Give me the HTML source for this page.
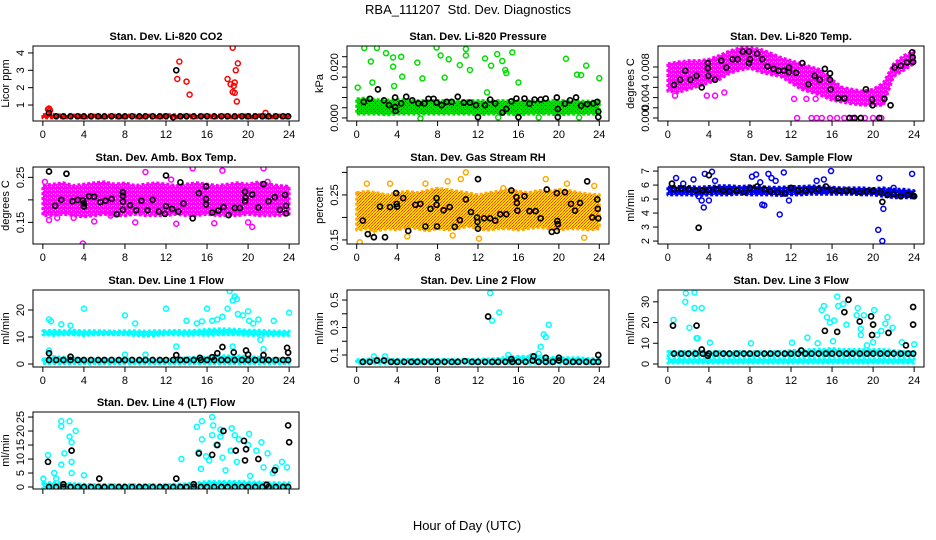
<!DOCTYPE html>
<html><head><meta charset="utf-8"><style>
body{margin:0;background:#fff}
svg{display:block;font-family:"Liberation Sans",sans-serif}
</style></head><body>
<svg id="chart" width="936" height="540" viewBox="0 0 936 540">
<defs>
<pattern id="pat-red" width="4" height="4" patternUnits="userSpaceOnUse"><rect width="4" height="4" fill="#ff0000"/><rect x="1" y="1" width="1" height="1" fill="#ff9090"/></pattern>
<pattern id="pat-green" width="4" height="4" patternUnits="userSpaceOnUse"><rect width="4" height="4" fill="#00dd00"/><rect x="1" y="1" width="1" height="1" fill="#004400"/><rect x="3" y="3" width="1" height="1" fill="#007700"/></pattern>
<pattern id="pat-magenta" width="4" height="4" patternUnits="userSpaceOnUse"><rect width="4" height="4" fill="#ff00ff"/><rect x="1" y="1" width="1" height="1" fill="#ffb0ff"/><rect x="3" y="2" width="1" height="1" fill="#ffd0ff"/></pattern>
<pattern id="pat-orange" width="3" height="3" patternUnits="userSpaceOnUse"><rect width="3" height="3" fill="#ffdd00"/><rect x="0" y="0" width="1" height="1" fill="#ff2a00"/><rect x="2" y="1" width="1" height="1" fill="#ff3300"/><rect x="1" y="2" width="1" height="1" fill="#ff6600"/></pattern>
<pattern id="pat-blue" width="4" height="4" patternUnits="userSpaceOnUse"><rect width="4" height="4" fill="#0000ee"/><rect x="1" y="1" width="1" height="1" fill="#6a6aff"/></pattern>
<pattern id="pat-cyan" width="4" height="4" patternUnits="userSpaceOnUse"><rect width="4" height="4" fill="#00ffff"/><rect x="1" y="1" width="1" height="1" fill="#b0ffff"/></pattern>
</defs>
<text x="468" y="14" text-anchor="middle" font-size="13" xml:space="preserve">RBA_111207&#160; Std. Dev. Diagnostics</text>
<text x="467" y="530" text-anchor="middle" font-size="13">Hour of Day (UTC)</text>
</svg>
<script>
const xTicks=[0,4,8,12,16,20,24];
const bandHours=[0,1,2,3,4,5,6,7,8,9,10,11,12,13,14,15,16,17,18,19,20,21,22,23,24];
const BH=[0.6,1.3,2,2.7,3.4,4,4.7,5.4,6,6.7,7.4,8,8.7,9.4,10,10.7,11.4,12,12.7,13.4,14,14.7,15.4,16,16.7,17.4,18,18.7,19.4,20,20.7,21.4,22,22.7,23.4,23.9];

// CO2
const co2Lo=[0.26,0.26,0.26,0.26,0.26,0.26,0.26,0.26,0.26,0.26,0.26,0.26,0.26,0.26,0.26,0.26,0.26,0.26,0.26,0.26,0.26,0.26,0.26,0.26,0.26];
const co2Hi=[0.45,0.45,0.42,0.42,0.42,0.42,0.42,0.42,0.42,0.42,0.42,0.42,0.44,0.44,0.42,0.42,0.42,0.42,0.42,0.42,0.44,0.44,0.44,0.42,0.42];
const co2PtX=[0.5,0.6,0.7,13.3,13.1,14,14.3,18,18.3,18.5,18.6,18.7,18.5,18.7,18.8,19,18.9,21.7];
const co2PtY=[0.75,0.8,0.7,3.5,2.5,2.35,1.6,2.5,2.2,4.3,2.1,2.3,1.75,1.7,3.0,3.4,1.2,0.55];
const co2BlkX=BH.concat([13]);
const co2BlkY=[0.55,0.35,0.35,0.35,0.35,0.35,0.35,0.35,0.35,0.35,0.35,0.35,0.35,0.35,0.35,0.35,0.35,0.35,0.3,0.35,0.35,0.35,0.35,0.35,0.35,0.35,0.35,0.35,0.35,0.35,0.35,0.35,0.35,0.35,0.35,0.35,3.0];

// Pressure
const prLo=[0.0015,0.0015,0.0015,0.0012,0.0015,0.0015,0.0015,0.0015,0.0015,0.0015,0.0015,0.0015,0.0012,0.0015,0.0015,0.0015,0.0012,0.0015,0.0015,0.0015,0.0012,0.0015,0.0015,0.0015,0.0015];
const prHi=[0.0075,0.0078,0.0072,0.007,0.0072,0.007,0.0068,0.0068,0.0068,0.0068,0.0068,0.0068,0.0068,0.0068,0.0068,0.0068,0.0068,0.0068,0.0068,0.0068,0.0068,0.0068,0.0066,0.0066,0.0066];
const prPtX=[0.1,0.75,1.55,1.4,2,2.9,3.6,3.6,3.7,4.4,4.5,6,6.5,7.9,8.3,8.7,9.1,10.2,10.8,10.8,11.2,12.7,13.3,13.9,14.4,14.7,14.8,15.4,16,12.9,20.7,21.8,22.2,22.7,24,6.3,14,18,22];
const prPtY=[0.0119,0.0274,0.0139,0.0221,0.0274,0.0254,0.0201,0.0237,0.0125,0.024,0.0162,0.0217,0.0155,0.0276,0.0245,0.0158,0.023,0.0207,0.027,0.0245,0.0188,0.0233,0.0205,0.025,0.0223,0.0188,0.0176,0.0257,0.0139,0.0100,0.0232,0.017,0.0168,0.0205,0.0156,-0.0002,0.0002,0.0002,0.0002];
const prBlkX=[0.7,1.3,2.1,2.7,3.2,3.8,3.8,3.85,4.4,4.9,5.5,6.1,6.7,7.1,7.6,7.9,8.4,8.9,9.4,10,10.6,11.2,11.8,12,12.7,13.2,13.7,14.4,14.8,15.3,15.8,16,16.6,17.1,17.6,18.2,18.7,19.8,19.9,19.9,20.6,21.1,21.7,22.2,22.8,23.4,23.8,23.9,23.9];
const prBlkY=[0.0063,0.0075,0.0112,0.0069,0.005,0.008,0.0043,0.0027,0.0057,0.0083,0.0069,0.0057,0.0057,0.0075,0.0075,0.006,0.005,0.0063,0.0063,0.0083,0.006,0.006,0.005,0.0003,0.005,0.0072,0.0057,0.0021,0.0035,0.0065,0.0076,0.0003,0.0076,0.0056,0.0072,0.0072,0.0076,0.008,0.0003,0.0035,0.0056,0.0069,0.008,0.0048,0.0054,0.0057,0.0063,0.0025,0.0003];

// Li-820 temp
const tmLo=[0.0042,0.004,0.0045,0.005,0.0055,0.006,0.007,0.0075,0.0078,0.0072,0.0068,0.0065,0.0055,0.0045,0.004,0.0035,0.0028,0.0025,0.0022,0.002,0.002,0.002,0.0065,0.0075,0.0085];
const tmHi=[0.0085,0.0088,0.009,0.009,0.0092,0.0098,0.0105,0.011,0.011,0.0108,0.0102,0.0095,0.009,0.0085,0.008,0.0075,0.006,0.0048,0.0045,0.0042,0.0045,0.0055,0.0085,0.0098,0.0105];
const tmPtX=[0.7,3.8,4.6,5.5,12.6,14,14.5,15,15.8,16.5,17.2,18,19.2,20,20.8,12.3,13.5,14.4];
const tmPtY=[0.0035,0.0035,0.0035,0.004,0,0,0,0,0,0,0,0,0,0,0,0.003,0.003,0.003];
const tmBlkX=[0.6,1.2,1.7,2.2,2.8,3.3,3.9,3.9,3.95,4.6,5.2,5.7,6.3,6.8,7.3,7.9,7.9,8,8.7,9.2,9.7,10.3,10.8,11.3,11.8,11.8,12.5,13.1,13.7,14.3,14.8,15.3,15.8,15.8,15.85,16.6,17.2,17.7,18.2,18.8,19.3,19.9,19.95,20.6,21.1,21.7,22.1,22.7,23.3,23.8,23.85,23.9];
const tmBlkY=[0.0052,0.006,0.0074,0.006,0.0066,0.0048,0.0086,0.0078,0.0066,0.006,0.009,0.0079,0.0092,0.0092,0.0104,0.0086,0.0104,0.0092,0.0101,0.0092,0.0081,0.0077,0.0074,0.0074,0.0079,0.0072,0.0071,0.0086,0.0053,0.0066,0.006,0.0077,0.007,0.006,0.0045,0.0031,0.0031,0,0,0,0.0045,0.0029,0.002,0,0.003,0.002,0.0079,0.0082,0.0087,0.0103,0.0095,0.0088];

// Amb box temp
const abLo=[0.165,0.165,0.168,0.165,0.162,0.165,0.168,0.165,0.165,0.168,0.165,0.165,0.165,0.168,0.165,0.165,0.168,0.165,0.165,0.165,0.168,0.165,0.165,0.165,0.168];
const abHi=[0.232,0.235,0.238,0.232,0.235,0.238,0.24,0.235,0.238,0.232,0.235,0.238,0.235,0.232,0.235,0.238,0.235,0.232,0.235,0.238,0.235,0.24,0.235,0.232,0.23];
const abPtX=[0.2,3.9,0.6,10,12.5,14.6,17.5,21.5,21.9,5,9,13,16.7,20,20.4,3,6.6,1.4];
const abPtY=[0.24,0.103,0.155,0.262,0.245,0.27,0.265,0.27,0.24,0.152,0.15,0.147,0.148,0.15,0.14,0.16,0.165,0.16];
const abBlkX=[0.6,1.2,1.8,2.3,2.9,3.4,3.9,4,4,4.5,5,5.6,6.1,6.7,7.2,7.8,7.8,7.8,7.8,8.5,9.1,9.6,10.2,10.7,11.3,11.9,12,12,12.6,13.2,13.4,13.7,14.6,15.2,15.9,15.9,15.9,16.5,17.1,17.6,18.1,18.7,19.2,19.7,19.7,19.75,20.4,21,21.5,22,22.6,23.1,23.6,23.7,23.7];
const abBlkY=[0.263,0.187,0.2,0.258,0.197,0.2,0.199,0.185,0.192,0.208,0.207,0.195,0.198,0.202,0.168,0.217,0.209,0.196,0.178,0.188,0.177,0.198,0.177,0.2,0.174,0.169,0.254,0.186,0.18,0.174,0.239,0.192,0.159,0.215,0.202,0.23,0.19,0.172,0.176,0.184,0.166,0.182,0.182,0.218,0.197,0.205,0.212,0.183,0.235,0.197,0.206,0.178,0.211,0.187,0.17];

// Gas RH
const rhLo=[0.172,0.175,0.17,0.175,0.172,0.178,0.175,0.17,0.175,0.172,0.175,0.18,0.175,0.172,0.175,0.175,0.172,0.175,0.178,0.175,0.172,0.175,0.175,0.172,0.175];
const rhHi=[0.255,0.258,0.255,0.25,0.255,0.258,0.255,0.26,0.265,0.262,0.258,0.255,0.25,0.255,0.258,0.262,0.258,0.255,0.26,0.258,0.262,0.26,0.255,0.252,0.25];
const rhPtX=[0.3,1.0,3.3,6.8,9.0,10.3,10.8,12.1,14.5,18.7,20.8,22.5,9.5,5,1.5,23.5];
const rhPtY=[0.145,0.275,0.275,0.275,0.28,0.285,0.3,0.153,0.265,0.285,0.275,0.155,0.16,0.158,0.165,0.27];
const rhBlkX=[0.6,1.1,1.7,2.3,2.8,3.3,3.9,3.95,4,4.6,5.1,5.8,6.3,6.8,7.3,7.9,7.9,7.95,8.6,9.2,9.7,10.2,10.8,11.3,11.9,11.95,12,12,12.6,13.2,13.7,14.2,14.8,15.3,15.8,15.85,15.9,16.6,17.1,17.7,18.2,18.8,19.3,19.8,19.8,19.85,19.9,20.6,21.2,21.6,22.1,22.8,23.3,23.8,23.85,23.9];
const rhBlkY=[0.193,0.163,0.156,0.224,0.156,0.223,0.254,0.23,0.224,0.243,0.17,0.228,0.23,0.18,0.219,0.228,0.243,0.18,0.216,0.223,0.179,0.194,0.24,0.212,0.2,0.19,0.285,0.175,0.198,0.198,0.193,0.207,0.207,0.26,0.245,0.232,0.215,0.247,0.214,0.214,0.198,0.262,0.168,0.254,0.17,0.192,0.185,0.256,0.23,0.215,0.232,0.28,0.2,0.24,0.219,0.198];

// Sample flow
const sfLo=[5.3,5.3,5.3,5.25,5.3,5.3,5.3,5.35,5.3,5.3,5.3,5.25,5.3,5.3,5.35,5.35,5.35,5.35,5.35,5.3,5.3,5.2,5.1,5.1,5.1];
const sfHi=[5.85,5.9,5.9,5.85,5.9,5.95,5.95,5.9,5.95,5.9,5.85,5.85,5.9,5.9,5.95,5.9,5.85,5.8,5.8,5.8,5.75,5.8,5.7,5.7,5.6];
const sfPtX=[0.8,1.5,2.5,3.0,3.3,3.5,3.6,4.0,4.3,4.6,8.2,8.6,9.0,9.2,9.4,9.8,10.1,10.5,10.9,11.3,11.8,14.5,15.2,15.9,20.6,20.5,20.9,21,22,23.8];
const sfPtY=[6.5,6.1,6.4,5.2,4.9,4.4,6.8,4.9,6.95,6.3,6.6,6.75,6.2,4.6,4.55,6.8,6.5,6.3,3.9,6.9,4.9,6.3,6.4,7.0,6.5,2.8,2.0,4.3,5.8,6.8];
const sfBlkX=BH.concat([0.4,3.0,4.0,20.9,24]);
const sfBlkY=[5.7,5.75,5.7,5.6,5.6,5.65,5.7,5.6,5.55,5.6,5.5,5.8,5.9,5.7,5.55,5.5,5.4,5.8,5.6,5.6,5.65,5.7,5.9,5.65,5.6,5.6,5.55,5.5,5.55,5.6,5.5,5.3,5.35,5.2,5.3,5.25,6.1,2.95,6.7,4.8,5.2];

// Line 1
const l1Lo=[10.8,10.6,10.8,10.8,10.6,10.8,10.8,10.8,10.8,10.6,10.3,10.6,10.8,10.8,10.6,10.8,10.6,10.8,10.8,10.8,10.6,10.6,10.6,10.6,10.6];
const l1Hi=[12.3,12.5,12.3,12.5,12.3,12.3,12.3,12.2,12.3,12.3,12.2,12.3,12.3,12.4,12.3,12.5,12.8,13,13,12.8,12.5,12.5,12.3,12.2,12.2];
const l1bLo=[0.2,0.2,0.2,0.2,0.2,0.2,0.2,0.2,0.2,0.2,0.2,0.2,0.2,0.2,0.2,0.2,0.2,0.2,0.2,0.2,0.2,0.2,0.2,0.2,0.2];
const l1bHi=[1.8,2.8,2.5,2.2,2,1.8,1.8,1.8,1.8,1.8,1.8,1.8,1.8,2,2.3,2.5,2.5,3,3,3,2.8,2.5,2,2,2];
const l1PtX=[0.6,0.8,1.8,2.7,4.0,8.0,9.0,12.0,14.0,15.0,15.5,16.0,16.5,17,17.5,18,18.2,18.5,18.7,18.9,19,19.5,20,20.1,20.5,21,21.2,22.5,24,13,21.5,18.5,0.6,8,10];
const l1PtY=[16.5,15.8,14.7,14.2,20.5,18.0,15.0,20.5,16,15,15.8,20.5,16,16.5,17.5,20.5,27,23.5,25,24,18.5,18,19.5,16,15,16.5,9,16,19,6.5,5.5,6.5,5,3.5,3.5];
const l1BlkX=BH.concat([0.6,2.7,13,15.3,16.5,17,17.5,18.6,19.8,20,21.5,23.8,23.9]);
const l1BlkY=[1.5,1.5,1.5,1.5,1.5,1.5,1.5,1.5,1.5,1.5,1.5,1.5,1.5,1.5,1.5,1.5,1.5,1.5,1.5,1.5,1.5,1.5,1.5,1.5,1.5,1.5,1.5,1.5,1.5,1.5,1.5,1.5,1.5,1.5,1.5,1.5,4,2.7,3.3,2.3,2.5,4,6.3,4.3,5,3.5,3.3,6,4.2];

// Line 2
const l2Lo=[0.04,0.04,0.04,0.04,0.04,0.04,0.04,0.04,0.04,0.04,0.04,0.04,0.04,0.04,0.04,0.04,0.04,0.04,0.04,0.04,0.04,0.04,0.04,0.04,0.04];
const l2Hi=[0.065,0.07,0.075,0.07,0.068,0.068,0.068,0.068,0.068,0.068,0.068,0.068,0.07,0.07,0.075,0.085,0.09,0.09,0.09,0.085,0.08,0.08,0.08,0.075,0.07];
const l2PtX=[13.2,13.4,14.1,17.3,18.0,18.2,18.5,18.7,19,1.7,2.8,15];
const l2PtY=[0.55,0.35,0.41,0.09,0.11,0.16,0.25,0.23,0.32,0.09,0.09,0.1];
const l2BlkX=BH.concat([13,17.5,20,23.9,18.7,15.3]);
const l2BlkY=[0.05,0.05,0.06,0.06,0.05,0.05,0.05,0.05,0.05,0.05,0.05,0.05,0.05,0.05,0.05,0.055,0.05,0.05,0.05,0.05,0.05,0.05,0.05,0.05,0.05,0.06,0.05,0.05,0.05,0.06,0.05,0.05,0.05,0.05,0.05,0.05,0.38,0.09,0.08,0.1,0.08,0.07];

// Line 3
const l3Lo=[0.5,0.5,0.5,0.5,0.5,0.5,0.5,0.5,0.5,0.5,0.5,0.5,0.5,0.5,0.5,0.5,0.5,0.5,0.5,0.5,0.5,0.5,0.5,0.5,0.5];
const l3Hi=[2.5,2.5,2.5,2.5,2.5,2.5,2.5,2.5,2.5,2.5,2.5,2.5,2.5,2.5,2.5,2.5,2.5,2.5,2.5,2.5,2.5,2.5,2.5,2.5,2.5];
const l3bLo=[4,4,4,4,4,4,4,4,4,4,4,4,4,4,4,4,4,4,4,4,4,4,4,4,4];
const l3bHi=[6,6,6,6.5,6,6,6,6,6,6,6,6,6.5,6.5,7,7,7.5,7,7,7,7,7,6.5,6,6];
const l3PtX=[0.55,1.75,1.7,2.1,2.6,2.6,2.8,2.9,3.3,4.1,8.1,12.1,13.6,15.0,15.2,15.5,15.8,16.2,16.5,16.6,17.1,17.4,18.5,18.4,18.8,18.8,19.1,20.1,20.4,20.8,21.2,21.4,21.9,22.8,24,14.6,16.1,19.4,20];
const l3PtY=[21.3,34.1,30,17.5,34.5,27,12.5,12.5,27,10.3,10,10.3,12.7,26,28,22.5,20,21,32.5,28,29,19,27,23.5,17,14,23.5,26,14,16,19.5,22.5,17.5,10.5,9.5,10,11,9,10.5];
const l3BlkX=BH.concat([0.5,2.8,3.3,3.9,13,15.3,16.5,17.2,17.6,18.7,19.8,19.9,20,21.5,23.2,23.9,23.9]);
const l3BlkY=[5,5,5,5,5,5,5,5,5,5,5,5,5,5,5,5,5,5,5,5,5,5,5,5,5,5,5,5,5,5,5,5,5,5,5,5,18.5,18.5,7,4,6.5,16,15.5,25,31,20.5,23,14,19,15,9,27.5,19];

// Line 4
const l4Lo=[-0.2,-0.2,-0.2,-0.2,-0.2,-0.2,-0.2,-0.2,-0.2,-0.2,-0.2,-0.2,-0.2,-0.2,-0.2,-0.2,-0.2,-0.2,-0.2,-0.2,-0.2,-0.2,-0.2,-0.2,-0.2];
const l4Hi=[1.5,1.5,1.5,1.2,1,0.8,0.8,0.8,0.8,0.8,0.8,0.8,0.8,1,1.2,1.5,2,2,2,2,1.8,1.8,1.5,1.5,1.5];
const l4PtX=[0.05,0.5,1.1,1.3,1.8,1.8,1.8,2.1,2.6,2.6,2.8,2.8,2.8,3.2,4,13.5,15,15.2,15.4,15.5,15.5,15.9,16.2,16.5,16.6,16.5,16.9,17.3,17.3,17.5,17.8,18.3,18.4,18.9,18.7,19.1,20.1,20.2,20,20.8,21.3,21.5,21.9,22.7,22.4,23.8,23.3];
const l4PtY=[3,11.4,5,3,8,23.5,21.7,12,23.5,18,16,9,5,20,4.2,10,21.5,12.5,6.5,17,23.5,11,9.5,25,22,18.5,15,20.5,18,10.5,6,13,21,9,18.5,17,19,4,15,13,16,7,12,7,5,7,9];
const l4BlkX=BH.concat([0.5,2,2.8,5.5,13,15.2,16.5,17,17.6,18.8,19.6,19.7,19.8,21,22.6,23.9,24,14.7,21.8]);
const l4BlkY=[0,0,0,0,0,0,0,0,0,0,0,0,0,0,0,0,0,0,0,0,0,0,0,0,0,0,0,0,0,0,0,0,0,0,0,0,9,1,13,3,3,12,11.5,15,20,13,16.5,9.5,13.5,10,6,22,16,1,0.8];

const NS='http://www.w3.org/2000/svg';
const svg=document.getElementById('chart');
const cols=[[33,299],[347,609],[658,924]];
const rows=[[46,121],[167,244],[290,367],[412,489]];

const panels=[
 {key:'co2',title:'Stan. Dev. Li-820 CO2',ylab:'Licor ppm',c:0,r:0,dom:[0.08,4.4],ticks:[1,2,3,4],labs:['1','2','3','4'],col:'#ff0000',pat:'pat-red',bands:[[co2Lo,co2Hi]],px:co2PtX,py:co2PtY,bx:co2BlkX,by:co2BlkY},
 {key:'pressure',title:'Stan. Dev. Li-820 Pressure',ylab:'kPa',c:1,r:0,dom:[-0.0012,0.0282],ticks:[0,0.004,0.008,0.012,0.016,0.02,0.024],labs:['0.000','','','','','0.020',''],col:'#00dd00',pat:'pat-green',bands:[[prLo,prHi]],px:prPtX,py:prPtY,bx:prBlkX,by:prBlkY},
 {key:'temp',title:'Stan. Dev. Li-820 Temp.',ylab:'degrees C',c:2,r:0,dom:[-0.00047,0.01129],ticks:[0,0.0016,0.0032,0.0048,0.0064,0.008],labs:['0.000','','0.004','','','0.008'],col:'#ff00ff',pat:'pat-magenta',bands:[[tmLo,tmHi]],px:tmPtX,py:tmPtY,bx:tmBlkX,by:tmBlkY},
 {key:'ambbox',title:'Stan. Dev. Amb. Box Temp.',ylab:'degrees C',c:0,r:1,dom:[0.102,0.273],ticks:[0.15,0.2,0.25],labs:['0.15','','0.25'],col:'#ff00ff',pat:'pat-magenta',bands:[[abLo,abHi]],px:abPtX,py:abPtY,bx:abBlkX,by:abBlkY},
 {key:'rh',title:'Stan. Dev. Gas Stream RH',ylab:'percent',c:1,r:1,dom:[0.141,0.312],ticks:[0.15,0.2,0.25,0.3],labs:['0.15','','0.25',''],col:'#ffaa00',pat:'pat-orange',bands:[[rhLo,rhHi]],px:rhPtX,py:rhPtY,bx:rhBlkX,by:rhBlkY},
 {key:'sampleflow',title:'Stan. Dev. Sample Flow',ylab:'ml/min',c:2,r:1,dom:[1.79,7.29],ticks:[2,3,4,5,6,7],labs:['2','3','4','5','6','7'],col:'#0000ee',pat:'pat-blue',bands:[[sfLo,sfHi]],px:sfPtX,py:sfPtY,bx:sfBlkX,by:sfBlkY},
 {key:'line1',title:'Stan. Dev. Line 1 Flow',ylab:'ml/min',c:0,r:2,dom:[-1.1,27.4],ticks:[0,10,20],labs:['0','10','20'],col:'#00ffff',pat:'pat-cyan',bands:[[l1Lo,l1Hi],[l1bLo,l1bHi]],px:l1PtX,py:l1PtY,bx:l1BlkX,by:l1BlkY},
 {key:'line2',title:'Stan. Dev. Line 2 Flow',ylab:'ml/min',c:1,r:2,dom:[0.0127,0.573],ticks:[0.1,0.2,0.3,0.4,0.5],labs:['0.1','','0.3','','0.5'],col:'#00ffff',pat:'pat-cyan',bands:[[l2Lo,l2Hi]],px:l2PtX,py:l2PtY,bx:l2BlkX,by:l2BlkY},
 {key:'line3',title:'Stan. Dev. Line 3 Flow',ylab:'ml/min',c:2,r:2,dom:[-1.45,35.7],ticks:[0,10,20,30],labs:['0','10','20','30'],col:'#00ffff',pat:'pat-cyan',bands:[[l3Lo,l3Hi],[l3bLo,l3bHi]],px:l3PtX,py:l3PtY,bx:l3BlkX,by:l3BlkY},
 {key:'line4',title:'Stan. Dev. Line 4 (LT) Flow',ylab:'ml/min',c:0,r:3,dom:[-0.71,26.8],ticks:[0,5,10,15,20,25],labs:['0','5','10','15','20','25'],col:'#00ffff',pat:'pat-cyan',bands:[[l4Lo,l4Hi]],px:l4PtX,py:l4PtY,bx:l4BlkX,by:l4BlkY,noXLab:true}
];

function mk(tag,attrs,parent){const e=document.createElementNS(NS,tag);for(const k in attrs)e.setAttribute(k,attrs[k]);(parent||svg).appendChild(e);return e;}

panels.forEach(p=>{
 const [x0,x1]=cols[p.c],[y0,y1]=rows[p.r];
 const sx=h=>x0+(h+0.96)/25.92*(x1-x0);
 const sy=v=>y1-(v-p.dom[0])/(p.dom[1]-p.dom[0])*(y1-y0);
 const g=mk('g',{});
 
 
 const cp=mk('clipPath',{id:'cp'+p.key},g);
 mk('rect',{x:x0,y:y0,width:x1-x0,height:y1-y0},cp);
 const t=mk('text',{x:(x0+x1)/2,y:y0-6,'text-anchor':'middle','font-size':11,'font-weight':'bold'},g);
 t.textContent=p.title;
 
 
 const yl=mk('text',{x:x0-24,y:(y0+y1)/2,'text-anchor':'middle','font-size':11,transform:`rotate(-90 ${x0-24} ${(y0+y1)/2})`},g);
 yl.textContent=p.ylab;
 
 
 const data=mk('g',{'clip-path':`url(#cp${p.key})`},g);
 p.bands.forEach(([lo,hi])=>{
  let d='';
  bandHours.forEach((h,i)=>{d+=(i?'L':'M')+sx(h).toFixed(1)+','+sy(hi[i]).toFixed(1);});
  for(let i=bandHours.length-1;i>=0;i--)d+='L'+sx(bandHours[i]).toFixed(1)+','+sy(lo[i]).toFixed(1);
  const b=mk('path',{d:d+'Z',fill:`url(#${p.pat})`,stroke:p.col,'stroke-width':3,'stroke-linejoin':'round','stroke-dasharray':'3 2'},data);
  
  
 });
 p.px.forEach((h,i)=>{
  const c=mk('circle',{cx:sx(h),cy:sy(p.py[i]),r:2.5,fill:'none',stroke:p.col,'stroke-width':1.5},data);
  
  
 });
 p.bx.forEach((h,i)=>{
  const c=mk('circle',{cx:sx(h),cy:sy(p.by[i]),r:2.5,fill:'none',stroke:'#000','stroke-width':1.7},data);
  
  
 });
 const fr=mk('rect',{x:x0,y:y0,width:x1-x0,height:y1-y0,fill:'none',stroke:'#000','stroke-width':1},g);
 
 
 xTicks.forEach(h=>{
  mk('line',{x1:sx(h),x2:sx(h),y1:y1,y2:y1+5,stroke:'#000'},g);
  if(!p.noXLab){
   const tl=mk('text',{x:sx(h),y:y1+17,'text-anchor':'middle','font-size':11},g);
   tl.textContent=h;
   
   
  }
 });
 p.ticks.forEach((v,i)=>{
  const yy=sy(v);
  mk('line',{x1:x0-5,x2:x0,y1:yy,y2:yy,stroke:'#000'},g);
  if(p.labs[i]){
   const tl=mk('text',{x:x0-9,y:yy,'text-anchor':'middle','font-size':11,transform:`rotate(-90 ${x0-9} ${yy})`},g);
   tl.textContent=p.labs[i];
   
   
  }
 });
});
</script>
</body></html>
